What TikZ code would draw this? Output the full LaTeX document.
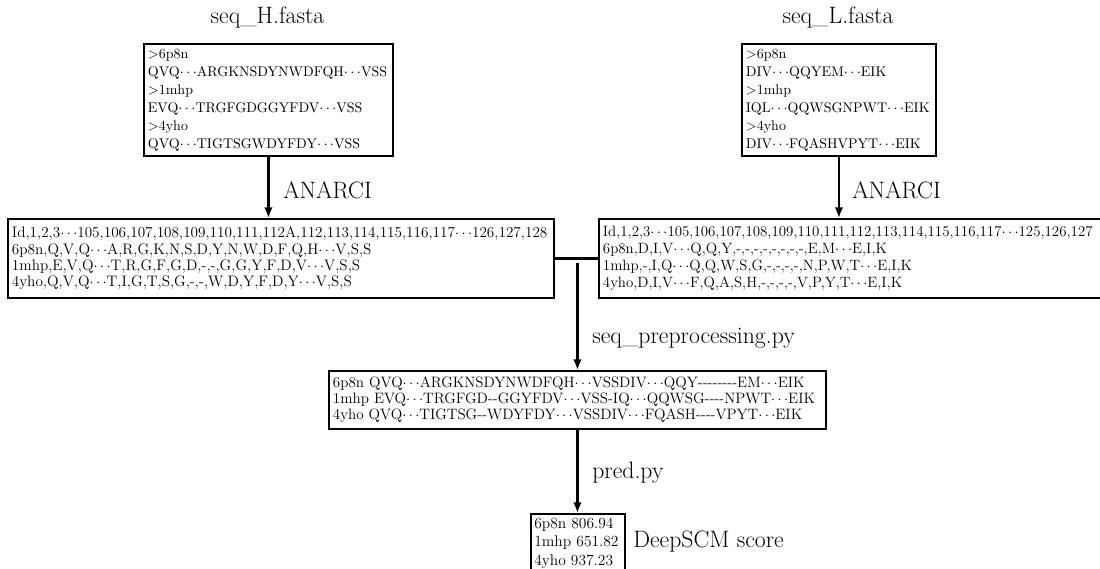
\documentclass[tikz,border=0pt]{standalone}
\usetikzlibrary{arrows.meta}
\begin{document}
\begin{tikzpicture}[x=0.75pt,y=-0.75pt,
  box/.style={draw, line width=1.4pt, anchor=north west, inner xsep=3pt, inner ysep=0pt, align=left},
  fasta/.style={box, font=\fontsize{10.5}{13.5}\selectfont},
  anl/.style={box, font=\fontsize{11.4}{12.2}\selectfont},
  anr/.style={box, font=\fontsize{11.2}{12.8}\selectfont},
  midt/.style={box, font=\fontsize{11.3}{12}\selectfont},
  scoret/.style={box, inner xsep=2.5pt, font=\fontsize{11.6}{13.9}\selectfont},
  lbl/.style={font=\fontsize{17.8}{20}\selectfont, inner sep=0pt},
  arr/.style={line width=1.8pt, -{Latex[length=8pt,width=6.5pt]}},
  joinline/.style={line width=1.8pt}]
\useasboundingbox (0,0) rectangle (1100,568);

% titles
\node[lbl] (tH) at (267.5,17) {seq\_H.fasta};
\node[lbl] (tL) at (838,17) {seq\_L.fasta};

% fasta boxes
\node[fasta, text width=180.75pt, minimum height=84pt] (H) at (143,43)
 {>6p8n\\
  QVQ$\cdots$ARGKNSDYNWDFQH$\cdots$VSS\\
  >1mhp\\
  EVQ$\cdots$TRGFGDGGYFDV$\cdots$VSS\\
  >4yho\\
  QVQ$\cdots$TIGTSGWDYFDY$\cdots$VSS};
\node[fasta, text width=139.5pt, minimum height=84pt] (L) at (741,43)
 {>6p8n\\
  DIV$\cdots$QQYEM$\cdots$EIK\\
  >1mhp\\
  IQL$\cdots$QQWSGNPWT$\cdots$EIK\\
  >4yho\\
  DIV$\cdots$FQASHVPYT$\cdots$EIK};

% ANARCI boxes
\node[anl, text width=403.5pt, minimum height=59.25pt] (AL) at (7,218)
 {Id,1,2,3$\cdots$105,106,107,108,109,110,111,112A,112,113,114,115,116,117$\cdots$126,127,128\\
  6p8n,Q,V,Q$\cdots$A,R,G,K,N,S,D,Y,N,W,D,F,Q,H$\cdots$V,S,S\\
  1mhp,E,V,Q$\cdots$T,R,G,F,G,D,-,-,G,G,Y,F,D,V$\cdots$V,S,S\\
  4yho,Q,V,Q$\cdots$T,I,G,T,S,G,-,-,W,D,Y,F,D,Y$\cdots$V,S,S};
\node[anr, text width=378pt, minimum height=59.25pt] (AR) at (598,218)
 {Id,1,2,3$\cdots$105,106,107,108,109,110,111,112,113,114,115,116,117$\cdots$125,126,127\\
  6p8n,D,I,V$\cdots$Q,Q,Y,-,-,-,-,-,-,-,-,E,M$\cdots$E,I,K\\
  1mhp,-,I,Q$\cdots$Q,Q,W,S,G,-,-,-,-,N,P,W,T$\cdots$E,I,K\\
  4yho,D,I,V$\cdots$F,Q,A,S,H,-,-,-,-,V,P,Y,T$\cdots$E,I,K};

% preprocessed box
\node[midt, text width=366.75pt, minimum height=43.5pt] (M) at (328,370)
 {6p8n QVQ$\cdots$ARGKNSDYNWDFQH$\cdots$VSSDIV$\cdots$QQY-{}-{}-{}-{}-{}-{}-{}-EM$\cdots$EIK\\
  1mhp EVQ$\cdots$TRGFGD-{}-GGYFDV$\cdots$VSS-IQ$\cdots$QQWSG-{}-{}-{}-NPWT$\cdots$EIK\\
  4yho QVQ$\cdots$TIGTSG-{}-WDYFDY$\cdots$VSSDIV$\cdots$FQASH-{}-{}-{}-VPYT$\cdots$EIK};

% score box
\node[scoret, text width=65.5pt, minimum height=43.5pt] (S) at (530,513)
 {6p8n 806.94\\
  1mhp 651.82\\
  4yho 937.23};

% labels
\node[lbl, anchor=west] (a1) at (283,190) {ANARCI};
\node[lbl, anchor=west] (a2) at (852,190) {ANARCI};
\node[lbl, anchor=west] (pre) at (592,338) {seq\_preprocessing.py};
\node[lbl, anchor=west] (pred) at (592,473) {pred.py};
\node[lbl, anchor=west] (deep) at (633,542) {DeepSCM score};

% connectors
\draw[arr] (H.south) -- (H.south |- AL.north);
\draw[arr] (L.south) -- (L.south |- AR.north);
\draw[joinline] (AL.east) -- (AR.west);
\draw[arr, shorten <=3.5pt] (M.north |- AL.east) -- (M.north);
\draw[arr] (M.south) -- (M.south |- S.north);
\end{tikzpicture}
\end{document}
